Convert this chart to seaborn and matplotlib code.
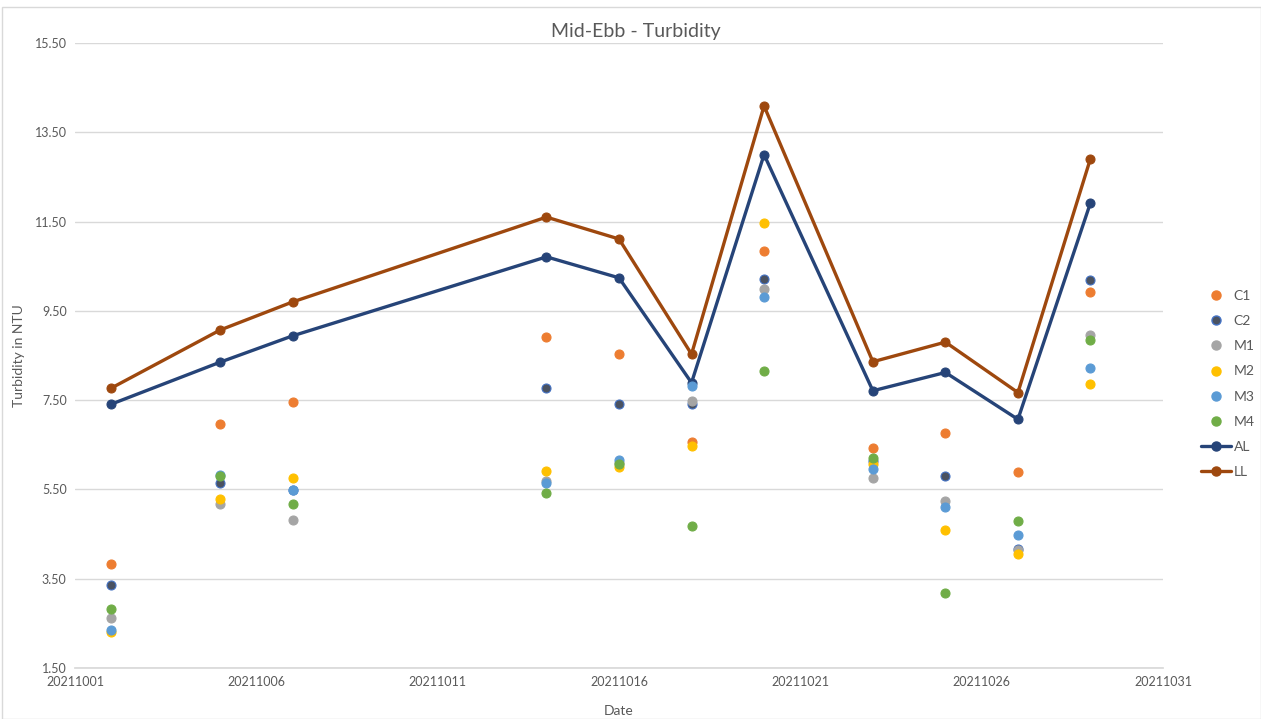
import numpy as np
import pandas as pd
import matplotlib
matplotlib.use("Agg")
import matplotlib.pyplot as plt
from matplotlib.lines import Line2D
from matplotlib.patches import Rectangle
import seaborn as sns

dates = [20211002, 20211005, 20211007, 20211014, 20211016, 20211018,
         20211020, 20211023, 20211025, 20211027, 20211029]

c1 = [3.83, 6.97, 7.46, 8.92, 8.53, 6.56, 10.83, 6.43, 6.77, 5.89, 9.93]
c2 = [3.36, 5.64, 5.49, 7.78, 7.42, 7.41, 10.22, 6.14, 5.80, 4.17, 10.19]
m1 = [2.62, 5.18, 4.81, 5.68, 6.10, 7.47, 9.98, 5.76, 5.25, 4.14, 8.96]
m2 = [2.31, 5.28, 5.75, 5.91, 6.01, 6.48, 11.46, 6.06, 4.59, 4.05, 7.86]
m3 = [2.35, 5.82, 5.49, 5.65, 6.16, 7.81, 9.82, 5.96, 5.11, 4.48, 8.21]
m4 = [2.82, 5.80, 5.17, 5.42, 6.08, 4.67, 8.16, 6.21, 3.18, 4.79, 8.85]
al = [7.41, 8.35, 8.94, 10.71, 10.24, 7.89, 13.00, 7.71, 8.12, 7.07, 11.92]
ll = [7.77, 9.07, 9.70, 11.60, 11.11, 8.53, 14.09, 8.36, 8.80, 7.67, 12.91]

scatter_series = {"C1": c1, "C2": c2, "M1": m1, "M2": m2, "M3": m3, "M4": m4}
line_series = {"AL": al, "LL": ll}

colors = {"C1": "#ED7D31", "C2": "#4A5261", "M1": "#A5A5A5", "M2": "#FFC000",
          "M3": "#5B9BD5", "M4": "#70AD47", "AL": "#264478", "LL": "#9E480E"}
edges = {"C2": "#4472C4"}

y_ticks = [1.5, 3.5, 5.5, 7.5, 9.5, 11.5, 13.5, 15.5]
x_ticks = [20211001, 20211006, 20211011, 20211016, 20211021, 20211026, 20211031]

sns.set_theme(style="white")
plt.rcParams['font.family'] = ['Lato', 'DejaVu Sans']

fig = plt.figure(figsize=(12.61, 7.19), dpi=100)
ax = fig.add_axes([75 / 1261, 1 - 668 / 719, (1163 - 75) / 1261, (668 - 43) / 719])

scat = pd.DataFrame([(d, name, v) for name, vals in scatter_series.items()
                     for d, v in zip(dates, vals)], columns=["date", "series", "value"])
lines = pd.DataFrame([(d, name, v) for name, vals in line_series.items()
                      for d, v in zip(dates, vals)], columns=["date", "series", "value"])

for name, vals in line_series.items():
    sub = lines[lines["series"] == name]
    sns.lineplot(data=sub, x="date", y="value", ax=ax, color=colors[name],
                 linewidth=2.4, marker="o", markersize=6.5,
                 markeredgecolor=colors[name], zorder=3, legend=False)

for name in scatter_series:
    sub = scat[scat["series"] == name]
    sns.scatterplot(data=sub, x="date", y="value", ax=ax, color=colors[name],
                    s=42, edgecolor=edges.get(name, colors[name]), linewidth=0.8,
                    zorder=4, legend=False)

ax.set_xlim(20211001, 20211031)
ax.set_ylim(1.5, 15.5)
ax.set_xticks(x_ticks)
ax.set_xticklabels([str(t) for t in x_ticks])
ax.set_yticks(y_ticks)
ax.set_yticklabels([f"{t:.2f}" for t in y_ticks])
ax.tick_params(axis="both", labelsize=9, colors="#595959", length=0, pad=6)
ax.grid(axis="y", color="#D9D9D9", linewidth=1)
ax.grid(axis="x", visible=False)
for s in ["top", "right", "left"]:
    ax.spines[s].set_visible(False)
ax.spines["bottom"].set_color("#D9D9D9")

ax.set_xlabel("Date", fontsize=10, color="#595959", labelpad=12)
ax.set_ylabel("Turbidity in NTU", fontsize=10, color="#595959")
ax.yaxis.set_label_coords((25 - 75) / 1088, 0.5)
fig.text(636 / 1261, 1 - 32 / 719, "Mid-Ebb - Turbidity", ha="center", va="center",
         fontsize=14, color="#595959")

handles = []
for name in scatter_series:
    handles.append(Line2D([], [], linestyle="none", marker="o", markersize=6.5,
                          color=colors[name], markeredgecolor=edges.get(name, colors[name]),
                          label=name))
for name in line_series:
    handles.append(Line2D([], [], color=colors[name], linewidth=2.4, marker="o",
                          markersize=6.5, label=name))
fig.legend(handles=handles, loc="center left", bbox_to_anchor=(1188 / 1261, 1 - 384 / 719),
           frameon=False, fontsize=10, labelcolor="#595959", handlelength=2.2,
           labelspacing=0.95, handletextpad=0.2)

fig.patches.append(Rectangle((2 / 1261, 0), 1 - 2 / 1261, 1 - 7 / 719,
                             transform=fig.transFigure, fill=False,
                             edgecolor="#D9D9D9", linewidth=1))

fig.savefig("out.png", dpi=100)
